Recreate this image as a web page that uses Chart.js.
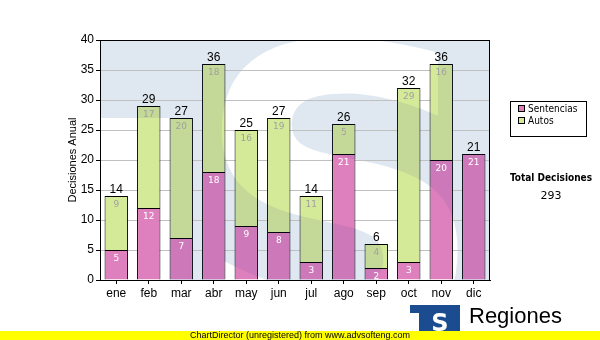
<!DOCTYPE html>
<html>
<head>
<meta charset="utf-8">
<script src="https://cdn.jsdelivr.net/npm/chart.js@4.4.0/dist/chart.umd.min.js"></script>
<style>
  html, body { margin: 0; padding: 0; background: #fff; }
  #wrap { width: 600px; height: 340px; position: relative; }
</style>
</head>
<body>
<div id="wrap"><canvas id="chart" width="600" height="340"></canvas></div>
<script>
// --- datos ---
const meses = ['ene', 'feb', 'mar', 'abr', 'may', 'jun', 'jul', 'ago', 'sep', 'oct', 'nov', 'dic'];
const sentencias = [5, 12, 7, 18, 9, 8, 3, 21, 2, 3, 20, 21];
const autos = [9, 17, 20, 18, 16, 19, 11, 5, 4, 29, 16, 0];
const yTicks = [0, 5, 10, 15, 20, 25, 30, 35, 40];
const serieNombres = ['Sentencias', 'Autos'];
const serieColores = ['#df80be', '#d5ea98'];

const totales = meses.map((m, i) => sentencias[i] + autos[i]);
const totalDecisiones = totales.reduce((a, b) => a + b, 0);

// mascara de la marca de agua (fondo azul con una S blanca)
function mascara(area, color) {
    const c = document.createElement('canvas');
    c.width = 600; c.height = 340;
    const g = c.getContext('2d');
    g.fillStyle = color;
    g.fillRect(area.left, area.top, area.right - area.left, area.bottom - area.top);
    g.globalCompositeOperation = 'destination-out';
    g.fillStyle = '#000';
    g.font = 'bold 410px "DejaVu Sans"';
    g.textAlign = 'center';
    g.textBaseline = 'alphabetic';
    g.fillText('S', 340, 342);
    g.fillRect(area.left, 118, 70, area.bottom - 118);
    return c;
}

const fondoPlugin = {
    id: 'fondo',
    beforeDraw(chart) {
        const ctx = chart.ctx;
        ctx.save();
        ctx.fillStyle = '#fff';
        ctx.fillRect(0, 0, chart.width, chart.height);
        ctx.drawImage(mascara(chart.chartArea, '#dfe8f0'), 0, 0);
        ctx.restore();
    },
    afterDatasetsDraw(chart) {
        // las barras se oscurecen un poco donde pasa la marca de agua
        const ctx = chart.ctx;
        ctx.save();
        ctx.beginPath();
        chart.data.datasets.forEach((ds, d) => {
            chart.getDatasetMeta(d).data.forEach(el => {
                const w = el.width;
                ctx.rect(el.x - w / 2, el.y, w, el.base - el.y);
            });
        });
        ctx.clip();
        ctx.globalAlpha = 0.09;
        ctx.drawImage(mascara(chart.chartArea, 'rgb(40,60,140)'), 0, 0);
        ctx.restore();
    },
    afterDraw(chart) {
        const ctx = chart.ctx;
        const a = chart.chartArea;
        const y = chart.scales.y;
        ctx.save();

        // marco del area
        ctx.strokeStyle = '#000';
        ctx.lineWidth = 1;
        ctx.strokeRect(Math.round(a.left) + 0.5, Math.round(a.top) + 0.5, Math.round(a.right - a.left) - 1, Math.round(a.bottom - a.top));

        // valores dentro de cada segmento
        ctx.textAlign = 'center';
        ctx.textBaseline = 'middle';
        ctx.font = '9px "DejaVu Sans"';
        chart.data.datasets.forEach((ds, d) => {
            chart.getDatasetMeta(d).data.forEach((el, i) => {
                const v = ds.data[i];
                if (!v) return;
                ctx.fillStyle = d === 0 ? '#fff' : '#a0a0a0';
                ctx.fillText(String(v), el.x, el.y + 9);
            });
        });

        // totales encima de la pila
        ctx.fillStyle = '#000';
        ctx.font = '12px "Liberation Sans"';
        ctx.textBaseline = 'alphabetic';
        const meta = chart.getDatasetMeta(0);
        totales.forEach((t, i) => {
            ctx.fillText(String(t), meta.data[i].x, y.getPixelForValue(t) - 3);
        });

        // titulo del eje y
        ctx.save();
        ctx.translate(73, (a.top + a.bottom) / 2);
        ctx.rotate(-Math.PI / 2);
        ctx.font = '11px "Liberation Sans"';
        ctx.textBaseline = 'middle';
        ctx.fillText('Decisiones Anual', 0, 0);
        ctx.restore();

        // leyenda
        ctx.strokeRect(510.5, 101.5, 76, 35);
        ctx.font = '10px "DejaVu Sans Condensed"';
        ctx.textAlign = 'left';
        ctx.textBaseline = 'middle';
        serieNombres.forEach((n, k) => {
            const ly = 109 + k * 12;
            ctx.fillStyle = serieColores[k];
            ctx.fillRect(518, ly - 4, 7, 7);
            ctx.strokeStyle = '#000';
            ctx.strokeRect(518.5, ly - 3.5, 6, 6);
            ctx.fillStyle = '#000';
            ctx.fillText(n, 528, ly);
        });

        // total general
        ctx.textAlign = 'center';
        ctx.font = 'bold 10px "DejaVu Sans Condensed"';
        ctx.fillText('Total Decisiones', 551, 178);
        ctx.font = '11px "DejaVu Sans"';
        ctx.fillText(String(totalDecisiones), 551, 196);

        // logo
        ctx.fillStyle = '#1b4c8f';
        ctx.fillRect(410, 305, 50, 26);
        ctx.fillStyle = '#fff';
        ctx.fillRect(410, 313, 9, 18);
        ctx.font = 'bold 24px "DejaVu Sans"';
        ctx.textBaseline = 'alphabetic';
        ctx.fillText('S', 440, 331);
        ctx.fillStyle = '#000';
        ctx.textAlign = 'left';
        ctx.font = '22px "Liberation Sans"';
        ctx.fillText('Regiones', 469, 323);

        // franja inferior
        ctx.fillStyle = '#ffff00';
        ctx.fillRect(0, 331, 600, 9);
        ctx.fillStyle = '#000';
        ctx.textAlign = 'center';
        ctx.textBaseline = 'middle';
        ctx.font = '9px "Liberation Sans"';
        ctx.fillText('ChartDirector (unregistered) from www.advsofteng.com', 300, 335.5);

        ctx.restore();
    }
};

new Chart(document.getElementById('chart'), {
    type: 'bar',
    data: {
        labels: meses,
        datasets: serieNombres.map((n, k) => ({
            label: n,
            data: k === 0 ? sentencias : autos,
            backgroundColor: serieColores[k],
            borderColor: '#000',
            borderWidth: 1,
            borderSkipped: 'start',
            barPercentage: 0.72,
            categoryPercentage: 1
        }))
    },
    options: {
        responsive: false,
        animation: false,
        layout: { padding: { left: 60, right: 110, top: 40, bottom: 40 } },
        plugins: { legend: { display: false }, tooltip: { enabled: false } },
        scales: {
            x: {
                stacked: true,
                afterFit(s) { s.height = 20; },
                grid: { drawOnChartArea: false, offset: false, tickLength: 4, tickColor: '#000' },
                border: { color: '#000' },
                ticks: { color: '#000', padding: 2, font: { family: 'Liberation Sans', size: 12 } }
            },
            y: {
                stacked: true,
                min: 0,
                max: 40,
                afterFit(s) { s.width = 40; },
                afterBuildTicks(s) { s.ticks = yTicks.map(v => ({ value: v })); },
                grid: { color: '#c0c0c0', tickLength: 4, tickColor: '#000' },
                border: { color: '#000' },
                ticks: { color: '#000', padding: 2, font: { family: 'Liberation Sans', size: 12 } }
            }
        }
    },
    plugins: [fondoPlugin]
});
</script>
</body>
</html>
